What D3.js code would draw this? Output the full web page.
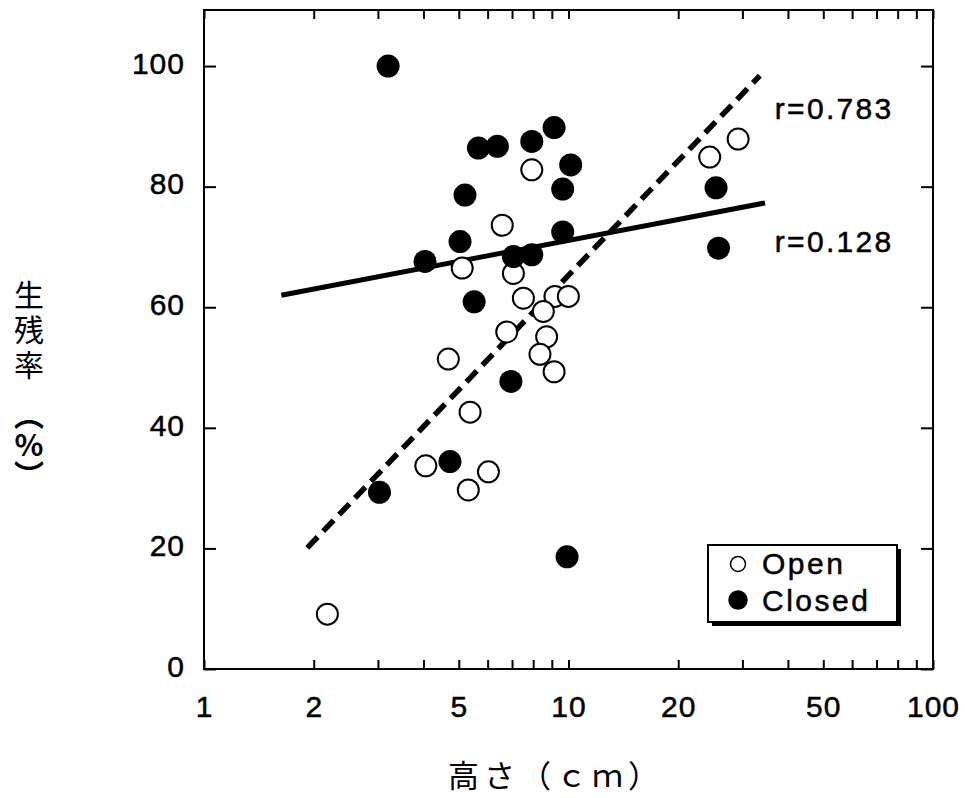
<!DOCTYPE html>
<html>
<head>
<meta charset="utf-8">
<script src="https://cdn.jsdelivr.net/npm/d3@7"></script>
<style>
  body { margin: 0; background: #fff; }
  svg { display: block; }
</style>
</head>
<body>
<svg id="chart" width="965" height="798"></svg>
<script>
// Tick labels
const xTicks = [1, 2, 5, 10, 20, 50, 100];
const yTicks = [0, 20, 40, 60, 80, 100];

// Open (white) points: height cm, survival %
const openX = [7.93, 6.58, 5.11, 7.06, 7.52, 9.18, 9.99, 8.53, 6.77, 8.71,
               4.68, 8.35, 9.13, 5.37, 4.06, 6.03, 5.31, 2.18, 29.2, 24.4];
const openY = [82.8, 73.6, 66.5, 65.6, 61.5, 61.8, 61.8, 59.3, 55.9, 55.1,
               51.4, 52.2, 49.3, 42.6, 33.7, 32.7, 29.7, 9.1, 87.9, 84.9];

// Closed (black) points
const closedX = [3.20, 5.66, 6.38, 7.93, 9.13, 10.14, 9.64, 5.20, 5.04, 9.64,
                 4.04, 7.06, 7.93, 5.51, 6.95, 4.73, 3.03, 9.91, 25.4, 25.8];
const closedY = [100.0, 86.4, 86.7, 87.5, 89.8, 83.6, 79.6, 78.6, 70.9, 72.5,
                 67.6, 68.4, 68.7, 60.9, 47.7, 34.4, 29.3, 18.6, 79.8, 69.8];

// Regression lines (end points)
const openFitX = [1.92, 33.5];
const openFitY = [20.1, 98.4];
const closedFitX = [1.63, 34.6];
const closedFitY = [62.0, 77.3];

const rLabels = ['r=0.783', 'r=0.128'];
const legendLabels = ['Open', 'Closed'];

const svg = d3.select('#chart');
const FONT = '"Liberation Sans", Arial, sans-serif';
const CJK = '"Noto Sans CJK JP", sans-serif';

const plotLeft = 204, plotRight = 933, plotTop = 10, plotBottom = 669;

const x = d3.scaleLog().domain([1, 100]).range([plotLeft, plotRight]);
const y = d3.scaleLinear().domain([0, 109.3]).range([plotBottom, plotTop]);

// minor log ticks 1..9, 10..90, 100
const minorTicks = [];
[1, 10].forEach(dec => { for (let k = 1; k <= 9; k++) minorTicks.push(k * dec); });
minorTicks.push(100);

function styleAxis(g) {
  g.select('.domain').remove();
  g.selectAll('.tick line').attr('stroke', '#000').attr('stroke-width', 2);
  g.selectAll('.tick text')
    .attr('font-family', FONT)
    .attr('font-size', 30)
    .attr('fill', '#000')
    .attr('stroke', '#000')
    .attr('stroke-width', 0.5)
    .attr('letter-spacing', 1);
}

// bottom axis with labels
svg.append('g')
  .attr('transform', `translate(0,${plotBottom})`)
  .call(d3.axisBottom(x).tickValues(minorTicks).tickSize(-9).tickPadding(27)
    .tickFormat(d => xTicks.includes(d) ? d : ''))
  .call(styleAxis);

// top axis, ticks only
svg.append('g')
  .attr('transform', `translate(0,${plotTop})`)
  .call(d3.axisTop(x).tickValues(minorTicks).tickSize(-9).tickFormat(''))
  .call(styleAxis);

// left axis with labels
svg.append('g')
  .attr('transform', `translate(${plotLeft},0)`)
  .call(d3.axisLeft(y).tickValues(yTicks).tickSize(-12).tickPadding(19))
  .call(styleAxis)
  .selectAll('.tick text').attr('dy', '0.24em');

// right axis, ticks only
svg.append('g')
  .attr('transform', `translate(${plotRight},0)`)
  .call(d3.axisRight(y).tickValues(yTicks).tickSize(-12).tickFormat(''))
  .call(styleAxis);

// frame
svg.append('rect')
  .attr('x', plotLeft).attr('y', plotTop)
  .attr('width', plotRight - plotLeft).attr('height', plotBottom - plotTop)
  .attr('fill', 'none').attr('stroke', '#000').attr('stroke-width', 2);

// regression lines
const line = d3.line().x(d => x(d[0])).y(d => y(d[1]));

svg.append('path')
  .datum(d3.zip(openFitX, openFitY))
  .attr('d', line)
  .attr('fill', 'none')
  .attr('stroke', '#000')
  .attr('stroke-width', 5.5)
  .attr('stroke-dasharray', '15,8');

svg.append('path')
  .datum(d3.zip(closedFitX, closedFitY))
  .attr('d', line)
  .attr('fill', 'none')
  .attr('stroke', '#000')
  .attr('stroke-width', 5);

// points
svg.append('g').selectAll('circle')
  .data(d3.zip(openX, openY))
  .join('circle')
  .attr('cx', d => x(d[0]))
  .attr('cy', d => y(d[1]))
  .attr('r', 10.5)
  .attr('fill', '#fff')
  .attr('stroke', '#000')
  .attr('stroke-width', 2);

svg.append('g').selectAll('circle')
  .data(d3.zip(closedX, closedY))
  .join('circle')
  .attr('cx', d => x(d[0]))
  .attr('cy', d => y(d[1]))
  .attr('r', 11.5)
  .attr('fill', '#000');

// r labels next to the line ends
svg.selectAll('.rlabel')
  .data(rLabels)
  .join('text')
  .attr('class', 'rlabel')
  .attr('x', x(35) + 8)
  .attr('y', (d, i) => i === 0 ? y(91.2) : y(69.2))
  .attr('font-family', FONT)
  .attr('font-size', 30)
  .attr('letter-spacing', 2.3)
  .attr('stroke', '#000')
  .attr('stroke-width', 0.5)
  .text(d => d);

// legend
const lg = svg.append('g').attr('transform', 'translate(708,545)');
lg.append('rect').attr('x', 4).attr('y', 4).attr('width', 189).attr('height', 77).attr('fill', '#000');
lg.append('rect').attr('x', 0).attr('y', 0).attr('width', 189).attr('height', 77)
  .attr('fill', '#fff').attr('stroke', '#000').attr('stroke-width', 2);
legendLabels.forEach((lab, i) => {
  lg.append('circle')
    .attr('cx', 30).attr('cy', 19 + i * 36)
    .attr('r', i === 0 ? 7.5 : 9)
    .attr('fill', i === 0 ? '#fff' : '#000')
    .attr('stroke', '#000').attr('stroke-width', 1.5);
  lg.append('text')
    .attr('x', 54).attr('y', 29 + i * 37)
    .attr('font-family', FONT)
    .attr('font-size', 30)
    .attr('letter-spacing', 2.5)
    .attr('stroke', '#000')
    .attr('stroke-width', 0.5)
    .text(lab);
});

// x axis title
svg.append('text')
  .attr('x', 556).attr('y', 787)
  .attr('text-anchor', 'middle')
  .attr('font-family', CJK)
  .attr('font-size', 31)
  .attr('letter-spacing', 5)
  .text('高さ（ｃｍ）');

// y axis title (vertical writing)
svg.append('text')
  .attr('x', 29).attr('y', 280)
  .attr('writing-mode', 'tb')
  .style('writing-mode', 'vertical-rl')
  .attr('font-family', CJK)
  .attr('font-size', 30)
  .attr('letter-spacing', 5)
  .text('生残率');

svg.append('text')
  .attr('x', 29).attr('y', 400)
  .attr('writing-mode', 'tb')
  .style('writing-mode', 'vertical-rl')
  .style('text-orientation', 'upright')
  .attr('font-family', CJK)
  .attr('font-size', 30)
  .attr('font-weight', 'bold')
  .text('︵%︶');
</script>
</body>
</html>
